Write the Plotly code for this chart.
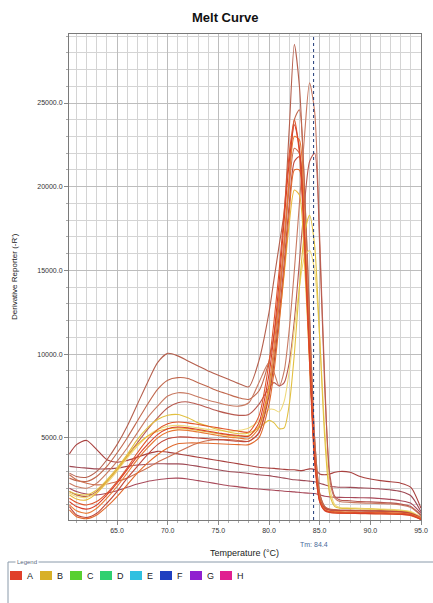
import plotly.graph_objects as go

# ---------------- data ----------------
temperature = [60.3, 61, 62, 63, 64, 65, 66, 67, 68, 69, 70, 71, 72, 73, 74, 75, 76, 77, 78, 79,
               80, 80.5, 81, 81.5, 82, 82.5, 83, 83.5, 84, 84.5, 85, 85.5, 86, 86.5, 87,
               88, 89, 90, 91, 92, 93, 94, 95]

low_1 = [4050, 4600, 4850, 4300, 3700, 3550, 3650, 3850, 4050, 4200, 4150, 4050, 3950, 3850, 3750, 3650, 3550, 3450, 3350, 3250,
         3200, 3180, 3150, 3120, 3100, 3100, 3050, 3080, 3150, 3120, 2850, 2800, 2850, 2950, 3000,
         2950, 2700, 2550, 2450, 2380, 2300, 2050, 800]
low_2 = [3300, 3250, 3200, 3150, 3150, 3200, 3300, 3380, 3430, 3460, 3450, 3450, 3400, 3300, 3200, 3100, 3000, 2950, 2880, 2800,
         2750, 2700, 2650, 2600, 2550, 2500, 2480, 2450, 2420, 2380, 2300, 2200, 2100, 2080, 2060,
         2050, 2020, 2000, 1950, 1900, 1800, 1550, 600]
low_3 = [2000, 1800, 1650, 1600, 1700, 1850, 2050, 2250, 2400, 2500, 2580, 2600, 2550, 2450, 2350, 2250, 2150, 2080, 2000, 1950,
         1900, 1880, 1850, 1820, 1800, 1780, 1750, 1720, 1700, 1680, 1600, 1520, 1480, 1460, 1450,
         1440, 1430, 1420, 1380, 1330, 1250, 1100, 500]
well_1 = [2900, 2700, 2650, 3000, 3700, 4600, 5700, 7000, 8300, 9500, 10050, 9900, 9600, 9300, 9000, 8750, 8500, 8250, 8050, 9600,
          12500, 14500, 16500, 18500, 23500, 28500, 26000, 20000, 12000, 5000, 1700, 900, 700, 650, 650,
          650, 640, 630, 620, 610, 580, 480, 200]
well_2 = [2600, 2450, 2400, 2700, 3300, 4100, 5000, 6000, 7000, 7900, 8450, 8600, 8550, 8300, 8050, 7800, 7600, 7400, 7300, 7800,
          9600, 11200, 13500, 16500, 20500, 24000, 24600, 20000, 12500, 5000, 1700, 900, 750, 720, 700,
          690, 680, 670, 660, 640, 600, 500, 300]
well_3 = [2300, 2100, 2000, 2300, 2900, 3600, 4400, 5300, 6200, 6900, 7500, 7700, 7650, 7450, 7250, 7100, 6950, 6900, 7100, 8300,
          9500, 8900, 8100, 9000, 11500, 15000, 19000, 23000, 26200, 24500, 17000, 8500, 2500, 1400, 1200,
          1150, 1120, 1100, 1080, 1060, 1000, 850, 350]
well_4 = [1800, 1600, 1500, 1800, 2400, 3100, 3900, 4700, 5500, 6200, 6800, 7100, 7150, 7000, 6800, 6600, 6450, 6350, 6400, 7000,
          8000, 8300, 8100, 8300, 9500, 12000, 15500, 19000, 21500, 22000, 16500, 8000, 2800, 1500, 1300,
          1250, 1200, 1180, 1150, 1120, 1050, 900, 400]
well_5 = [1800, 1650, 1600, 1900, 2500, 3200, 4000, 4900, 5600, 6100, 6350, 6400, 6200, 5900, 5700, 5500, 5350, 5250, 5300, 5600,
          6050, 5900, 5550, 5600, 7000, 10000, 14000, 17200, 18300, 16500, 11000, 5000, 1600, 900, 800,
          780, 760, 750, 730, 700, 650, 550, 200]
well_6 = [1700, 1500, 1450, 1750, 2300, 3000, 3800, 4500, 5100, 5500, 5700, 5750, 5700, 5600, 5500, 5450, 5400, 5450, 5600, 6000,
          6700, 6700, 6550, 7200, 9000, 11500, 14000, 15800, 16200, 15000, 11000, 5500, 2000, 1000, 850,
          820, 800, 780, 760, 740, 700, 600, 250]
well_7 = [1400, 1150, 1000, 1200, 1700, 2400, 3200, 4100, 4900, 5500, 5850, 5950, 5900, 5800, 5700, 5600, 5500, 5400, 5350, 6300,
          9500, 12000, 15000, 18500, 22000, 24000, 22000, 16500, 9500, 3500, 1200, 700, 600, 580, 570,
          560, 550, 540, 530, 520, 500, 420, 150]
well_8 = [1200, 900, 750, 1000, 1600, 2300, 3100, 3900, 4600, 5200, 5550, 5650, 5600, 5500, 5400, 5300, 5200, 5150, 5100, 5900,
          8800, 11200, 14300, 18000, 21500, 23700, 22300, 17000, 10000, 3800, 1200, 650, 550, 520, 510,
          500, 490, 480, 470, 460, 440, 380, 120]
well_9 = [1000, 650, 500, 800, 1400, 2100, 2900, 3700, 4400, 5000, 5350, 5480, 5450, 5350, 5250, 5150, 5050, 5000, 4950, 5600,
          8200, 10500, 13500, 17000, 20500, 23000, 22800, 18000, 10500, 4000, 1300, 700, 600, 580, 570,
          560, 550, 540, 530, 520, 500, 420, 200]
well_10 = [900, 400, 250, 500, 1100, 1800, 2600, 3300, 4000, 4600, 4950, 5060, 5050, 5000, 4950, 4900, 4850, 4800, 4800, 5300,
           7500, 9500, 12300, 15500, 19000, 21500, 21800, 17500, 10500, 4200, 1400, 800, 700, 680, 670,
           660, 650, 640, 630, 620, 600, 500, 250]
well_11 = [700, 300, 180, 400, 900, 1500, 2200, 2900, 3500, 4000, 4400, 4650, 4700, 4700, 4680, 4650, 4620, 4600, 4600, 5000,
           7000, 9000, 11800, 15000, 18500, 21000, 21000, 17000, 10000, 4000, 1300, 700, 550, 520, 500,
           490, 480, 470, 460, 450, 430, 360, 150]
well_12 = [1600, 1350, 1300, 1700, 2400, 3100, 3900, 4600, 5100, 5400, 5550, 5600, 5550, 5450, 5350, 5250, 5150, 5100, 5150, 5700,
           7800, 9600, 12000, 14800, 17800, 19800, 19500, 15500, 9500, 4000, 1400, 700, 600, 580, 570,
           560, 550, 540, 530, 520, 500, 420, 200]
well_13 = [2800, 2500, 2300, 2200, 2250, 2400, 2600, 2900, 3200, 3550, 3850, 4150, 4450, 4700, 4850, 4900, 4900, 4850, 4800, 5300,
           7800, 10000, 13000, 16500, 20000, 22300, 22000, 17000, 10000, 4000, 1400, 800, 700, 680, 670,
           660, 650, 640, 630, 620, 600, 500, 250]

x_tick_values = [65, 70, 75, 80, 85, 90, 95]
x_tick_labels = ["65.0", "70.0", "75.0", "80.0", "85.0", "90.0", "95.0"]
y_tick_values = [5000, 10000, 15000, 20000, 25000]
y_tick_labels = ["5000.0", "10000.0", "15000.0", "20000.0", "25000.0"]
tm_value = 84.4
legend_labels = ["A", "B", "C", "D", "E", "F", "G", "H"]

# ---------------- styles ----------------
series = [
    (low_1, "#a8403e"), (low_2, "#9e4a55"), (low_3, "#a84a5a"),
    (well_1, "#b5604e"), (well_2, "#c0684e"), (well_3, "#c87a62"), (well_4, "#b85a50"),
    (well_13, "#cc7050"), (well_6, "#efd97a"), (well_5, "#e2c040"), (well_12, "#e8b83a"),
    (well_10, "#c2483a"), (well_9, "#e87a35"), (well_11, "#e06a2e"), (well_7, "#e0552a"),
    (well_8, "#d8402a"),
]
legend_colors = ["#e0402a", "#d8b028", "#58d030", "#30d070", "#30c0e0", "#2040c0", "#9020d0", "#e02090"]

W, H = 433, 603
L, R, T, B = 69, 421, 34, 520
FONT = "Liberation Sans, Arial, sans-serif"


def px(xp):
    return (xp - L) / (R - L)


def py(yp):
    return (B - yp) / (B - T)


fig = go.Figure()
for vals, col in series:
    fig.add_trace(go.Scatter(x=temperature, y=vals, mode="lines",
                             line=dict(color=col, width=1.1, shape="spline", smoothing=0.7),
                             hoverinfo="skip", showlegend=False, cliponaxis=True))

fig.update_layout(
    width=W, height=H,
    margin=dict(l=L, r=W - R, t=T, b=H - B, pad=0, autoexpand=False),
    paper_bgcolor="white", plot_bgcolor="white",
    font=dict(family=FONT, size=7, color="#333333"),
    showlegend=False,
)
fig.update_xaxes(
    range=[60.26, 95], tickvals=x_tick_values, ticktext=x_tick_labels, automargin=False,
    showgrid=True, gridcolor="#bdbdbd", gridwidth=1,
    showline=True, linecolor="#7a7a7a", linewidth=1, mirror=True,
    ticks="outside", ticklen=4, tickcolor="#888888",
    minor=dict(dtick=1, tick0=60, showgrid=True, gridcolor="#d4d4d4", ticks="outside", ticklen=2, tickcolor="#aaaaaa"),
    tickfont=dict(size=7, color="#333333"), zeroline=False,
)
fig.update_yaxes(
    range=[100, 29120], tickvals=y_tick_values, ticktext=y_tick_labels, automargin=False,
    showgrid=True, gridcolor="#bdbdbd", gridwidth=1,
    showline=True, linecolor="#7a7a7a", linewidth=1, mirror=True,
    ticks="outside", ticklen=4, tickcolor="#888888",
    minor=dict(dtick=1000, tick0=0, showgrid=True, gridcolor="#d4d4d4", ticks="outside", ticklen=2, tickcolor="#aaaaaa"),
    tickfont=dict(size=7, color="#333333"), zeroline=False,
)

# Tm marker line
fig.add_shape(type="line", xref="x", yref="paper", x0=tm_value, x1=tm_value, y0=0, y1=1,
              line=dict(color="#1f3a78", width=1, dash="dot"))

annotations = [
    dict(text="<b>Melt Curve</b>", x=px(225), y=py(18), xanchor="center", yanchor="middle",
         font=dict(size=13, color="#111111", family=FONT)),
    dict(text="Derivative Reporter (-R')", x=px(14), y=py(277), xanchor="center", yanchor="middle",
         textangle=-90, font=dict(size=8, color="#222222")),
    dict(text="Temperature (°C)", x=px(244), y=py(553), xanchor="center", yanchor="middle",
         font=dict(size=9, color="#222222")),
    dict(text="Legend", x=px(15), y=py(562), xanchor="left", yanchor="middle",
         font=dict(size=6, color="#5a6a80"), bgcolor="white"),
]
for a in annotations:
    a.update(xref="paper", yref="paper", showarrow=False)
annotations.append(dict(text="Tm: 84.4", x=tm_value, y=py(544), xref="x", yref="paper",
                        xanchor="center", yanchor="middle", showarrow=False,
                        font=dict(size=7, color="#4a6a9a")))

# legend frame
fig.add_shape(type="line", xref="paper", yref="paper", x0=px(8), x1=px(433), y0=py(562), y1=py(562),
              line=dict(color="#8a9aaa", width=1), layer="below")
fig.add_shape(type="line", xref="paper", yref="paper", x0=px(8), x1=px(8), y0=py(562), y1=py(603),
              line=dict(color="#8a9aaa", width=1))

for i, (lab, col) in enumerate(zip(legend_labels, legend_colors)):
    x0 = 10 + i * 30
    fig.add_shape(type="rect", xref="paper", yref="paper", x0=px(x0), x1=px(x0 + 12),
                  y0=py(571), y1=py(580), line=dict(width=0), fillcolor=col)
    annotations.append(dict(text=lab, x=px(x0 + 15), y=py(576), xref="paper", yref="paper",
                            xanchor="left", yanchor="middle", showarrow=False,
                            font=dict(size=9, color="#222222")))

fig.update_layout(annotations=annotations)
fig.write_html("out.html", config={"displayModeBar": False},
               post_script="document.body.style.margin='0';document.body.style.overflow='hidden';")
